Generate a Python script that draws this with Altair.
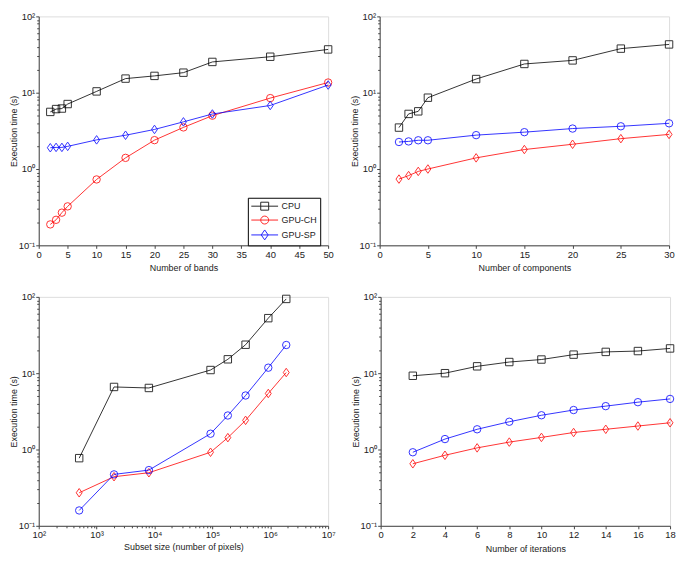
import altair as alt
import pandas as pd

SERIES = ["CPU", "GPU-CH", "GPU-SP"]
COLORS = ["#000000", "#ff0000", "#0000ff"]

# Panel 1: number of bands
bands = [2, 3, 4, 5, 10, 15, 20, 25, 30, 40, 50]
bands_cpu = [5.6, 6.1, 6.2, 7.1, 10.4, 15.3, 16.6, 18.3, 25.3, 29.6, 36.9]
bands_ch = [0.188, 0.216, 0.268, 0.324, 0.73, 1.40, 2.39, 3.51, 5.0, 8.5, 13.6]
bands_sp = [1.90, 1.92, 1.92, 1.98, 2.41, 2.77, 3.30, 4.15, 5.26, 6.8, 12.6]

# Panel 2: number of components
comps = [2, 3, 4, 5, 10, 15, 20, 25, 30]
comps_cpu = [3.49, 5.27, 5.7, 8.6, 15.1, 23.8, 26.5, 37.8, 42.9]
comps_ch = [0.738, 0.82, 0.93, 1.0, 1.40, 1.80, 2.11, 2.50, 2.84]
comps_sp = [2.26, 2.30, 2.38, 2.38, 2.78, 3.04, 3.39, 3.63, 3.97]

# Panel 3: subset size (number of pixels)
pixels = [500, 2000, 8000, 93000, 185000, 375000, 925000, 1890000]
pixels_cpu = [0.77, 6.6, 6.4, 11.0, 15.2, 23.6, 52.6, 94.0]
pixels_ch = [0.271, 0.44, 0.496, 0.92, 1.43, 2.41, 5.42, 10.2]
pixels_sp = [0.159, 0.472, 0.537, 1.61, 2.79, 5.1, 11.8, 23.4]

# Panel 4: number of iterations
iters = [2, 4, 6, 8, 10, 12, 14, 16, 18]
iters_cpu = [9.25, 10.0, 12.3, 14.0, 15.1, 17.5, 19.0, 19.5, 21.1]
iters_ch = [0.65, 0.84, 1.05, 1.25, 1.44, 1.67, 1.84, 2.03, 2.24]
iters_sp = [0.92, 1.37, 1.84, 2.31, 2.81, 3.29, 3.70, 4.17, 4.6]

Y_TITLE = "Execution time (s)"

DIAMOND = "M0,-1.15L0.8,0L0,1.15L-0.8,0Z"
MARK_A = ["square", "circle", DIAMOND]   # panel 1
MARK_B = ["square", DIAMOND, "circle"]   # panels 2-4

# legend symbols: line with marker (custom paths)
LEG_PATHS = [
    "M-1,0H4.4M0.9,-0.8H2.5V0.8H0.9Z",
    "M-1,0H4.4M2.5,0A0.8,0.8 0 1,1 0.9,0A0.8,0.8 0 1,1 2.5,0Z",
    "M-1,0H4.4M1.7,-1L2.4,0L1.7,1L1.0,0Z",
]

W, H = 292, 231
FONT = "Liberation Sans"


def log_ticks(lo, hi):
    vals = []
    for k in range(lo, hi):
        for m in range(1, 10):
            vals.append(round(m * 10 ** k, 10))
    vals.append(round(10 ** hi, 10))
    return vals


SUP = {"-1": "10⁻¹", "0": "10⁰", "1": "10¹", "2": "10²", "3": "10³",
       "4": "10⁴", "5": "10⁵", "6": "10⁶", "7": "10⁷"}


def log_label_expr(lo, hi):
    parts = []
    for k in range(lo, hi + 1):
        parts.append(f"datum.value == {round(10 ** k, 10)} ? '{SUP[str(k)]}'")
    return " : ".join(parts) + " : ''"


def major_test(lo, hi):
    vals = ",".join(str(round(10 ** k, 10)) for k in range(lo, hi + 1))
    return f"indexof([{vals}], datum.value) >= 0"


def axis_common(**kw):
    return alt.Axis(
        grid=False, labelFont=FONT, titleFont=FONT, labelFontSize=9.5, titleFontSize=9,
        titleFontWeight="normal", labelColor="#222", titleColor="#222",
        domainColor="#444", tickColor="#444", labelPadding=1, labelFlush=False,
        labelOverlap=False, **kw)


Y_AXIS = axis_common(
    values=log_ticks(-1, 2), labelExpr=log_label_expr(-1, 2),
    tickSize={"condition": {"test": major_test(-1, 2), "value": 3}, "value": 2},
    titlePadding=0)
Y_SCALE = alt.Scale(type="log", domain=[0.1, 100], nice=False)


def lin_axis(step, hi):
    return axis_common(values=list(range(0, hi + 1, step)), tickSize=3, format="d",
                       titlePadding=5)


def panel(xs, ys_list, markers, xtitle, xscale, xaxis, legend=False):
    layers = []
    for name, ys, color, marker in zip(SERIES, ys_list, COLORS, markers):
        df = pd.DataFrame({"x": xs, "y": ys, "series": name})
        base = alt.Chart(df).encode(
            x=alt.X("x:Q", scale=xscale, axis=xaxis, title=xtitle),
            y=alt.Y("y:Q", scale=Y_SCALE, axis=Y_AXIS, title=Y_TITLE),
        )
        layers.append(base.mark_line(color=color, strokeWidth=1, opacity=0.8))
        layers.append(base.mark_point(shape=marker, color=color, filled=False,
                                      size=56, strokeWidth=1, opacity=0.8))
    if legend:
        ldf = pd.DataFrame({"x": [xs[0]] * 3, "y": [ys_list[0][0]] * 3, "series": SERIES})
        leg = alt.Legend(
            title=None, orient="none", legendX=W - 81, legendY=H - 48,
            strokeColor="#000", fillColor="#fff", padding=3, cornerRadius=0,
            labelFont=FONT, labelFontSize=9, labelColor="#222", labelOffset=20,
            symbolSize=100, symbolStrokeWidth=1, symbolOpacity=0.85, rowPadding=1,
            symbolFillColor="transparent",
        )
        layers.append(
            alt.Chart(ldf).mark_point(filled=False, opacity=0).encode(
                x=alt.X("x:Q", scale=xscale, axis=xaxis, title=xtitle),
                y=alt.Y("y:Q", scale=Y_SCALE, axis=Y_AXIS, title=Y_TITLE),
                color=alt.Color("series:N", scale=alt.Scale(domain=SERIES, range=COLORS), legend=leg),
                shape=alt.Shape("series:N", scale=alt.Scale(domain=SERIES, range=LEG_PATHS), legend=leg),
            )
        )
    return alt.layer(*layers).properties(width=W, height=H)


p1 = panel(bands, [bands_cpu, bands_ch, bands_sp], MARK_A, "Number of bands",
           alt.Scale(domain=[0, 50], nice=False), lin_axis(5, 50), legend=True)
p2 = panel(comps, [comps_cpu, comps_ch, comps_sp], MARK_B, "Number of components",
           alt.Scale(domain=[0, 30], nice=False), lin_axis(5, 30))
p3 = panel(pixels, [pixels_cpu, pixels_ch, pixels_sp], MARK_B, "Subset size (number of pixels)",
           alt.Scale(type="log", domain=[100, 1e7], nice=False),
           axis_common(values=log_ticks(2, 7), labelExpr=log_label_expr(2, 7),
                       tickSize={"condition": {"test": major_test(2, 7), "value": 3}, "value": 2},
                       titlePadding=3))
p4 = panel(iters, [iters_cpu, iters_ch, iters_sp], MARK_B, "Number of iterations",
           alt.Scale(domain=[0, 18], nice=False), lin_axis(2, 18))

chart = alt.vconcat(
    alt.hconcat(p1, p2, spacing=14),
    alt.hconcat(p3, p4, spacing=14),
    spacing=18,
).properties(padding=0).configure_view(stroke=None).configure(background="white")

chart.save("out.html", embed_options={"renderer": "svg", "actions": False})
